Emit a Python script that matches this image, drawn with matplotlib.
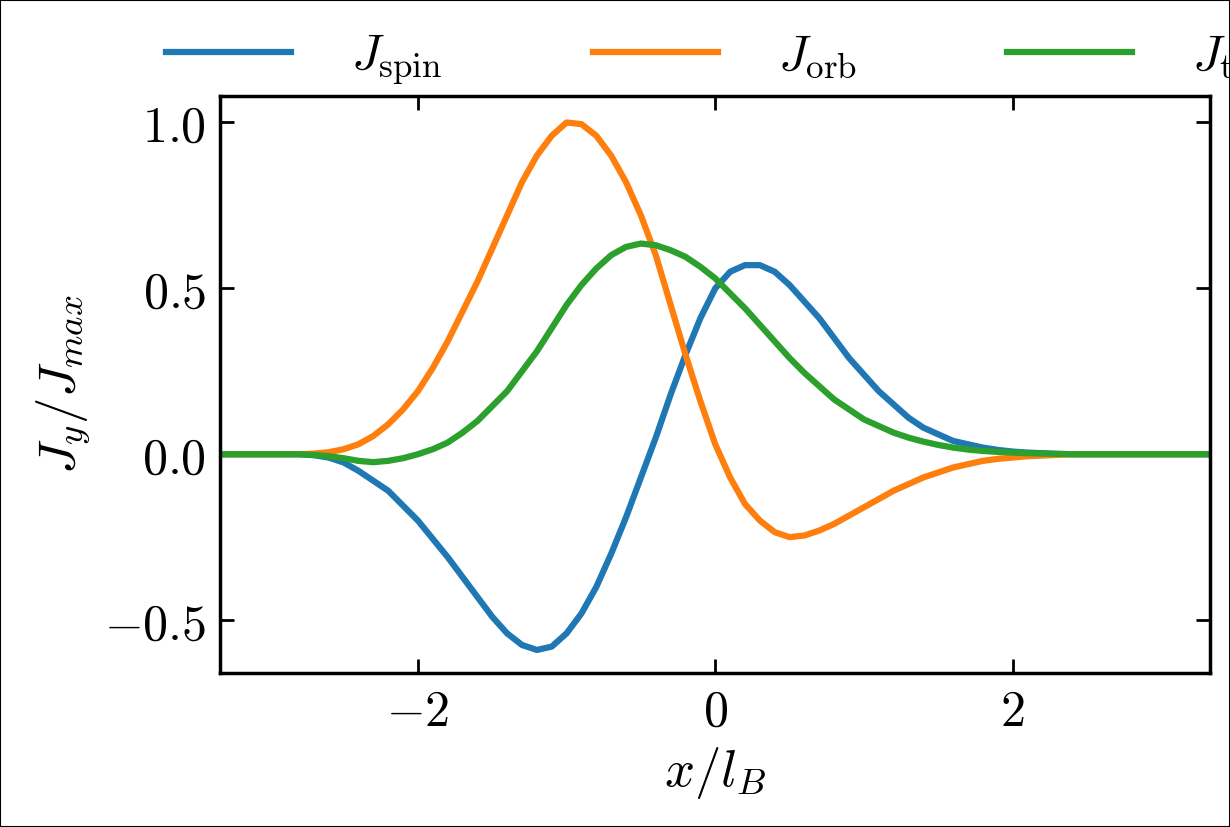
import numpy as np
import matplotlib.pyplot as plt

plt.rcParams['mathtext.fontset'] = 'cm'
plt.rcParams['font.family'] = 'serif'
plt.rcParams['font.serif'] = ['DejaVu Serif']

# sample grid x/l_B from -3.4 to 3.4 in steps of 0.1
x = np.round(np.arange(-34, 35) * 0.1, 1)

j_spin = [0] * 6 + [
    0, -0.003, -0.01, -0.025, -0.05, -0.08, -0.11, -0.155, -0.2, -0.255,
    -0.31, -0.37, -0.43, -0.49, -0.54, -0.575, -0.59, -0.58, -0.54, -0.48,
    -0.4, -0.3, -0.19, -0.07, 0.05, 0.18, 0.3, 0.41, 0.5, 0.55,
    0.57, 0.57, 0.55, 0.51, 0.46, 0.41, 0.35, 0.29, 0.24, 0.19,
    0.15, 0.11, 0.08, 0.06, 0.04, 0.03, 0.02, 0.013, 0.008, 0.005,
    0.003, 0.001, 0] + [0] * 10
j_orb = [0] * 6 + [
    0, 0.002, 0.006, 0.015, 0.03, 0.055, 0.09, 0.135, 0.19, 0.26,
    0.34, 0.43, 0.52, 0.62, 0.72, 0.82, 0.9, 0.96, 1.0, 0.995,
    0.96, 0.9, 0.82, 0.72, 0.6, 0.45, 0.3, 0.16, 0.03, -0.07,
    -0.15, -0.2, -0.235, -0.25, -0.245, -0.23, -0.21, -0.185, -0.16, -0.135,
    -0.11, -0.09, -0.07, -0.055, -0.04, -0.03, -0.02, -0.014, -0.01, -0.006,
    -0.004, -0.002, 0] + [0] * 10
j_tot = [0] * 6 + [
    0, -0.002, -0.006, -0.012, -0.02, -0.024, -0.02, -0.012, 0.0, 0.015,
    0.035, 0.065, 0.1, 0.145, 0.19, 0.25, 0.31, 0.38, 0.45, 0.51,
    0.56, 0.6, 0.625, 0.635, 0.63, 0.615, 0.595, 0.565, 0.53, 0.485,
    0.44, 0.39, 0.34, 0.29, 0.245, 0.205, 0.165, 0.135, 0.105, 0.085,
    0.065, 0.05, 0.038, 0.028, 0.02, 0.014, 0.01, 0.007, 0.005, 0.003,
    0.002, 0.001, 0] + [0] * 10

fig = plt.figure(figsize=(12.3, 8.27), dpi=100)
fig.patches.append(plt.Rectangle((0, 0), 1, 1, transform=fig.transFigure,
                                 fill=False, edgecolor='black', lw=1.5))
ax = fig.add_axes([0.179, 0.186, 0.805, 0.698])
ax.plot(x, j_spin, color='#1f77b4', lw=4.5, label=r'$J_{\rm spin}$')
ax.plot(x, j_orb, color='#ff7f0e', lw=4.5, label=r'$J_{\rm orb}$')
ax.plot(x, j_tot, color='#2ca02c', lw=4.5, label=r'$J_{\rm tot}$')

ax.set_xlim(-3.33, 3.33)
ax.set_ylim(-0.66, 1.08)
ax.set_xticks([-2, 0, 2])
ax.set_yticks([-0.5, 0, 0.5, 1.0])
ax.set_xticklabels([r'$-2$', r'$0$', r'$2$'])
ax.set_yticklabels([r'$-0.5$', r'$0.0$', r'$0.5$', r'$1.0$'])
ax.tick_params(direction='in', top=True, right=True, length=10, width=2, labelsize=36, pad=10)
for s in ax.spines.values():
    s.set_linewidth(2.5)
ax.set_xlabel(r'$x/l_B$', fontsize=38, labelpad=6)
ax.set_ylabel(r'$J_y/J_{max}$', fontsize=38, labelpad=8)
ax.legend(loc='lower center', bbox_to_anchor=(0.5, 0.98), ncol=3, frameon=False,
          fontsize=36, handlelength=2.5, columnspacing=3.0, handletextpad=1.2,
          borderaxespad=0)

fig.savefig('out.png', dpi=100)
